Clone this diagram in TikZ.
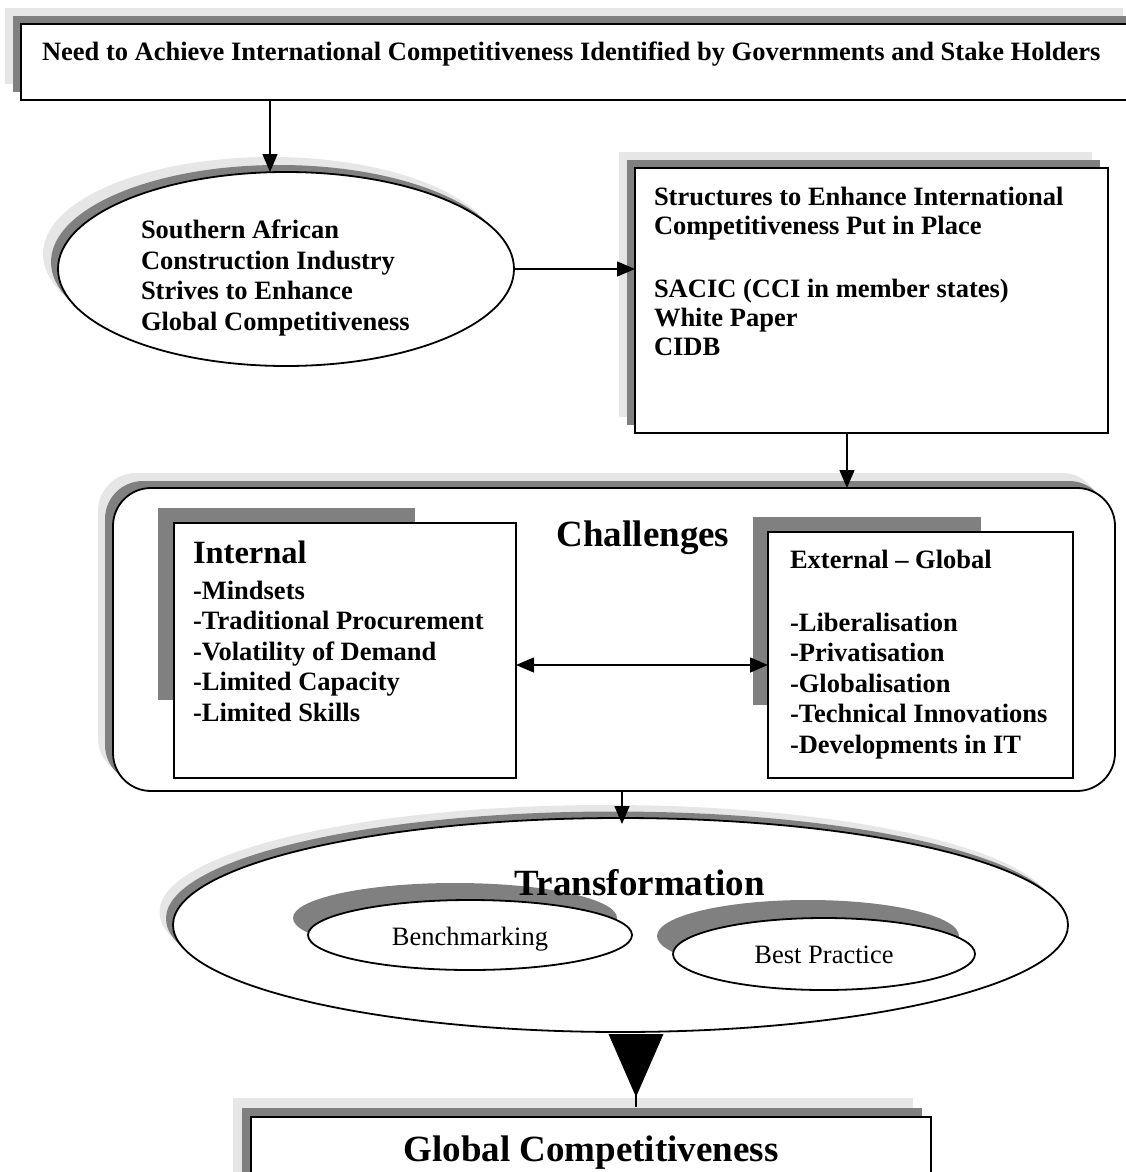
\documentclass[tikz,border=0pt]{standalone}
\usepackage{fontspec}
\setmainfont{Liberation Serif}
\usetikzlibrary{arrows.meta,shapes.geometric,calc}
\definecolor{shlight}{HTML}{E6E6E6}
\definecolor{shdark}{HTML}{808080}
\newcommand{\fbase}{\fontsize{26.5}{30.5}\selectfont\bfseries}
\newcommand{\fstr}{\fontsize{26.5}{29}\selectfont\bfseries}
\newcommand{\fnorm}{\fontsize{26.5}{30.5}\selectfont}
\newcommand{\fmid}{\fontsize{32.5}{36}\selectfont\bfseries}
\newcommand{\fbig}{\fontsize{37}{42}\selectfont\bfseries}
\begin{document}
\begin{tikzpicture}[x=1pt,y=-1pt,
  shl/.style={fill=shlight},
  shd/.style={fill=shdark},
  boxst/.style={draw=black,line width=1.8pt,fill=white,inner sep=0pt,outer sep=0pt},
  ell/.style={ellipse,draw=black,line width=1.8pt,fill=white,inner sep=0pt,outer sep=0pt},
  arr/.style={line width=1.5pt,-{Triangle[length=18pt,width=15pt]}},
  darr/.style={line width=1.5pt,{Triangle[length=18pt,width=15pt]}-{Triangle[length=18pt,width=15pt]}},
  txt/.style={inner sep=0pt,outer sep=0pt,align=left}]
\clip (0,0) rectangle (1126,1172);
\fill[white] (0,0) rectangle (1126,1172);

% top box
\fill[shl] (5,8) rectangle (1123,84);
\fill[shd] (13,16) rectangle (1140,92);
\node[boxst,rectangle,anchor=north west,minimum width=1130pt,minimum height=76pt] (need) at (21,24) {};
\node[txt,anchor=base west,font=\fbase] (needt) at (42,60) {Need to Achieve International Competitiveness Identified by Governments and Stake Holders};

% Southern African ellipse
\fill[shl] (271,254) ellipse [x radius=228, y radius=97];
\fill[shd] (279,262) ellipse [x radius=228, y radius=97];
\node[ell,minimum width=456pt,minimum height=194pt] (sae) at (286,269) {};
\node[txt,anchor=north west,font=\fbase] (saet) at (141,220) {Southern African\\Construction Industry\\Strives to Enhance\\Global Competitiveness};

% Structures box
\fill[shl] (619,152) rectangle (1092,417);
\fill[shd] (627,160) rectangle (1100,425);
\node[boxst,rectangle,anchor=north west,minimum width=473pt,minimum height=265pt] (str) at (635,168) {};
\node[txt,anchor=north west,font=\fstr] (strt) at (654,187) {Structures to Enhance International\\Competitiveness Put in Place\\[34pt]SACIC (CCI in member states)\\White Paper\\CIDB};

% Challenges frame
\fill[shl,rounded corners=38pt] (98,473) rectangle (1100,776);
\fill[shd,rounded corners=38pt] (105,481) rectangle (1107,783);
\node[boxst,rectangle,rounded corners=38pt,anchor=north west,minimum width=1002pt,minimum height=303pt] (chal) at (113,488) {};
\node[txt,anchor=base,font=\fbig] (chalt) at (643,546) {Challenges};

% Internal
\fill[shd] (158,508) rectangle (415,700);
\node[boxst,rectangle,anchor=north west,minimum width=342pt,minimum height=255pt] (int) at (174,523) {};
\node[txt,anchor=base west,font=\fmid] (intt) at (193,563) {Internal};
\node[txt,anchor=north west,font=\fbase] (intl) at (193,581) {-Mindsets\\-Traditional Procurement\\-Volatility of Demand\\-Limited Capacity\\-Limited Skills};

% External
\fill[shd] (753,517) rectangle (981,705);
\node[boxst,rectangle,anchor=north west,minimum width=305pt,minimum height=246pt] (ext) at (768,532) {};
\node[txt,anchor=base west,font=\fbase] (extt) at (790,568) {External -- Global};
\node[txt,anchor=north west,font=\fbase] (extl) at (790,613) {-Liberalisation\\-Privatisation\\-Globalisation\\-Technical Innovations\\-Developments in IT};

% Transformation
\fill[shl] (607,912) ellipse [x radius=447.5, y radius=107];
\fill[shd] (613.5,918.5) ellipse [x radius=447.5, y radius=107];
\node[ell,minimum width=895pt,minimum height=214pt] (trans) at (620.5,925) {};
\fill[shd] (455,918) ellipse [x radius=162, y radius=35];
\node[ell,minimum width=324pt,minimum height=70pt] (bench) at (470,935) {};
\node[txt,anchor=base,font=\fnorm] (bencht) at (470,945) {Benchmarking};
\fill[shd] (808,936) ellipse [x radius=151, y radius=36];
\node[ell,minimum width=302pt,minimum height=72pt] (best) at (824,954) {};
\node[txt,anchor=base,font=\fnorm] (bestt) at (824,963) {Best Practice};
\node[txt,anchor=base,font=\fbig] (transt) at (640,895) {Transformation};

% Global Competitiveness
\fill[shl] (233,1098) rectangle (913,1250);
\fill[shd] (242,1108) rectangle (922,1250);
\node[boxst,rectangle,anchor=north west,minimum width=680pt,minimum height=200pt] (gc) at (251,1117) {};
\node[txt,anchor=base,font=\fbig] (gct) at (591,1161) {Global Competitiveness};

% connectors
\draw[arr] (need.south -| 270,0) -- (sae.north -| 270,0);
\draw[arr] (sae.east) -- (sae.east -| str.west);
\draw[arr] (str.south -| 847,0) -- (chal.north -| 847,0);
\draw[darr] (int.east |- 0,665) -- (ext.west |- 0,665);
\draw[arr] (chal.south -| 622,0) -- ($(trans.north -| 622,0)+(0,6)$);
\coordinate (ta) at (trans.south -| 636,0);
\fill[black] ($(ta)+(-27.5,2)$) -- ($(ta)+(27.5,2)$) -- ($(ta)+(0,65)$) -- cycle;
\draw[line width=1.2pt] ($(ta)+(0,60)$) -- ($(gc.north -| ta)+(0,-10)$);
\end{tikzpicture}
\end{document}
